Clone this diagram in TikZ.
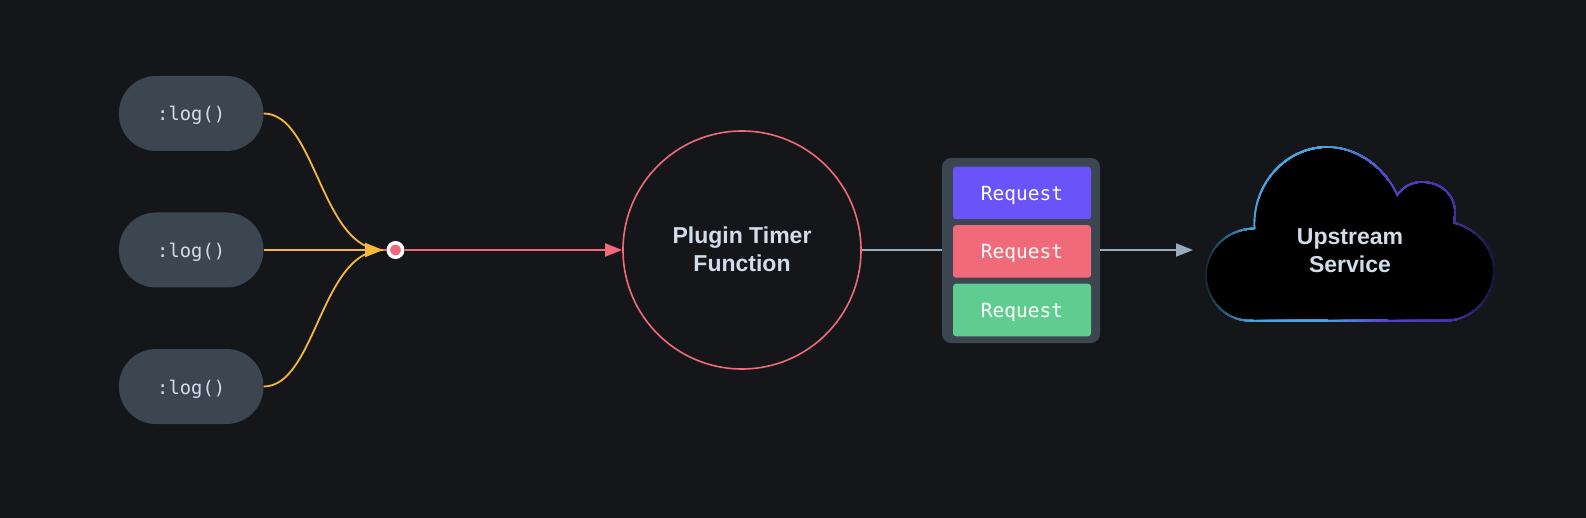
\documentclass[tikz,border=0pt]{standalone}
\usepackage{fontspec}
\setmainfont{Liberation Sans}
\setmonofont{DejaVu Sans Mono}
\usetikzlibrary{arrows.meta,positioning}
\definecolor{bgdark}{HTML}{14161A}
\definecolor{slate}{HTML}{3B4651}
\definecolor{amber}{HTML}{F5B83D}
\definecolor{coral}{HTML}{F16A79}
\definecolor{violet}{HTML}{6B53FA}
\definecolor{mint}{HTML}{5FCD8F}
\definecolor{haze}{HTML}{D3DDE9}
\definecolor{steel}{HTML}{9AABB9}
\definecolor{skyc}{HTML}{4AA5E0}
\definecolor{darkteal}{HTML}{14262F}
\definecolor{indigo}{HTML}{5A42D0}
\definecolor{deepv}{HTML}{42329F}
\definecolor{nightv}{HTML}{14122A}
\tikzstyle{logn}=[rounded corners=37pt, fill=slate, text=haze, minimum width=144.5pt, minimum height=75pt, inner sep=0pt, text height=15pt, text depth=0pt, font=\ttfamily\fontsize{18.8}{20}\selectfont]
\tikzstyle{reqn}=[rounded corners=3pt, text=white, minimum width=138pt, minimum height=52.5pt, inner sep=0pt, text height=14.2pt, text depth=0pt, font=\ttfamily\fontsize{19.5}{22}\selectfont]
\tikzstyle{titlen}=[align=center, text=haze, inner sep=0pt, font=\bfseries\fontsize{23}{28.3}\selectfont]
\tikzstyle{amberl}=[draw=amber, line width=1.8pt]
\tikzstyle{coralt}=[-{Triangle[length=17pt,width=13pt]}, coral, line width=1.9pt]
\tikzstyle{steelt}=[steel, line width=1.9pt]
\newcommand{\cloudpath}{(1254.5,228.5) .. controls (1252,183) and (1287,147) .. (1327,147)
  .. controls (1358,147) and (1385,168) .. (1397.3,195)
  .. controls (1404,186) and (1412,182) .. (1422,182)
  .. controls (1441,182) and (1455,195) .. (1455,212)
  .. controls (1455,216) and (1454.5,219) .. (1454,222.7)
  .. controls (1477,229) and (1494,248) .. (1494,270)
  .. controls (1494,298) and (1472,320.7) .. (1445,320.7)
  -- (1250,320.7) .. controls (1225,320.7) and (1206,300) .. (1206,275)
  .. controls (1206,250) and (1226,229) .. (1254.5,228.5) -- cycle}
\begin{document}
\begin{tikzpicture}[x=1pt,y=-1pt]
\fill[bgdark] (0,0) rectangle (1586,518);
\useasboundingbox (0,0) rectangle (1586,518);

\node[logn] (log1) at (191.2,113.5) {:log()};
\node[logn] (log2) at (191.2,250) {:log()};
\node[logn] (log3) at (191.2,386.5) {:log()};
\coordinate (merge) at (383,250);
\node[circle, fill=coral, draw=white, line width=3.5pt, minimum size=14.5pt, inner sep=0pt] (dot) at (395.5,250) {};
\node[circle, draw=coral, line width=1.6pt, minimum size=238pt, inner sep=0pt] (timer) at (742,250) {};
\node[titlen] (timerlabel) at (742,249) {Plugin Timer\\Function};

\draw[amberl] (log1.east) .. controls +(52,0) and +(-62,0) .. (merge);
\draw[amberl] (log3.east) .. controls +(52,0) and +(-62,0) .. (merge);
\draw[amberl, line width=2pt, -{Triangle[length=18pt,width=14pt,amber]}] (log2) -- (merge);
\draw[coral, line width=1.9pt] (merge) -- (dot);
\draw[coralt] (dot) -- (timer);

% panel with the three requests
\node[rounded corners=9pt, fill=slate, minimum width=158pt, minimum height=185pt] (panel) at (1021,250.5) {};
\node[reqn, fill=violet] (req1) at (1022,193) {Request};
\node[reqn, fill=coral] (req2) at (1022,251.5) {Request};
\node[reqn, fill=mint] (req3) at (1022,310) {Request};

\coordinate (cloudin) at (1193,250);
\draw[steelt] (timer.east) -- (timer.east -| panel.west);
\draw[steelt, -{Triangle[length=17pt,width=13pt]}] (timer.east -| panel.east) -- (cloudin);

% cloud outline, coloured slice by slice from left to right
\fill[black] \cloudpath;
\foreach \xa/\xb/\ca/\cb in {1204/1250/darkteal/skyc, 1250/1325/skyc/skyc, 1325/1385/skyc/indigo, 1385/1455/indigo/deepv, 1455/1496/deepv/nightv}
  \foreach \p in {0,4,...,100} {
    \begin{scope}
    \clip ({\xa+(\xb-\xa)*\p/100},100) rectangle ({\xb+3},360);
    \draw[draw=\cb!\p!\ca, line width=1.6pt] \cloudpath;
    \end{scope}
  }
\node[titlen] (upstream) at (1350,251) {Upstream\\Service};
\end{tikzpicture}
\end{document}
